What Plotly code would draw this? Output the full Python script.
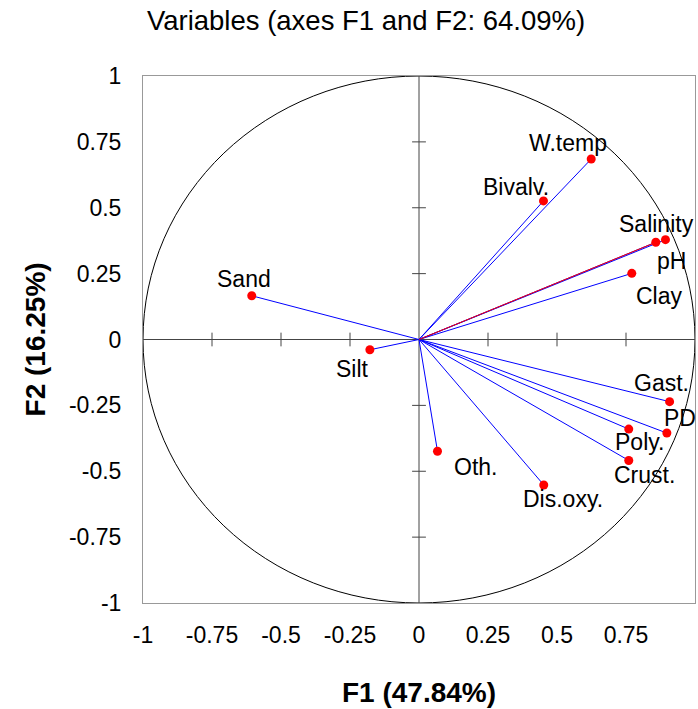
import plotly.graph_objects as go

variables = ["W.temp", "Bivalv.", "Salinity", "pH", "Clay", "Sand", "Silt",
             "Gast.", "PD", "Poly.", "Crust.", "Oth.", "Dis.oxy."]
f1 = [0.624, 0.451, 0.858, 0.893, 0.771, -0.606, -0.178,
      0.908, 0.898, 0.760, 0.760, 0.067, 0.452]
f2 = [0.685, 0.526, 0.369, 0.379, 0.251, 0.166, -0.039,
      -0.236, -0.355, -0.340, -0.459, -0.424, -0.552]
tick_vals = [-1, -0.75, -0.5, -0.25, 0, 0.25, 0.5, 0.75, 1]
tick_text = ["-1", "-0.75", "-0.5", "-0.25", "0", "0.25", "0.5", "0.75", "1"]

# label offsets in pixels (dx, dy upward)
label_off = {
    "W.temp": (-23, 16), "Bivalv.": (-27, 14), "Salinity": (1, 18), "pH": (6, -21),
    "Clay": (28, -23), "Sand": (-8, 17), "Silt": (-17, -19), "Gast.": (-8, 19),
    "PD": (13, 15), "Poly.": (11, -13), "Crust.": (16, -15), "Oth.": (38, -16),
    "Dis.oxy.": (19, -14),
}

FONT = "Liberation Sans, Arial, sans-serif"
fig = go.Figure()

for name, x, y in zip(variables, f1, f2):
    fig.add_trace(go.Scatter(x=[0, x], y=[0, y], mode="lines",
                             line=dict(color="#0000ff", width=1),
                             hoverinfo="skip", showlegend=False))
i = variables.index("Salinity")
fig.add_trace(go.Scatter(x=[0, f1[i]], y=[0, f2[i]], mode="lines",
                         line=dict(color="#ff0000", width=1),
                         hoverinfo="skip", showlegend=False))

fig.add_trace(go.Scatter(x=f1, y=f2, mode="markers", text=variables,
                         marker=dict(color="#ff0000", size=9),
                         showlegend=False))

for name, x, y in zip(variables, f1, f2):
    dx, dy = label_off[name]
    fig.add_annotation(x=x, y=y, text=name, showarrow=False, xshift=dx, yshift=dy,
                       font=dict(family=FONT, size=23, color="black"))

fig.add_shape(type="circle", xref="x", yref="y", x0=-1, y0=-1, x1=1, y1=1,
              line=dict(color="black", width=1), layer="below")
fig.add_shape(type="line", xref="x", yref="y", x0=-1, x1=1, y0=0, y1=0,
              line=dict(color="#444444", width=1), layer="below")
fig.add_shape(type="line", xref="x", yref="y", x0=0, x1=0, y0=-1, y1=1,
              line=dict(color="#444444", width=1), layer="below")
for t in tick_vals:
    if t in (-1, 0, 1):
        continue
    fig.add_shape(type="line", xref="x", yref="y", x0=t, x1=t, y0=-0.026, y1=0.026,
                  line=dict(color="#444444", width=1), layer="below")
    fig.add_shape(type="line", xref="x", yref="y", x0=-0.025, x1=0.025, y0=t, y1=t,
                  line=dict(color="#444444", width=1), layer="below")

axis_common = dict(range=[-1, 1], tickvals=tick_vals, ticktext=tick_text,
                   showgrid=False, zeroline=False, showline=True, mirror=True,
                   linecolor="#999999", linewidth=1, ticks="", automargin=False,
                   tickfont=dict(family=FONT, size=23, color="black"))
fig.update_xaxes(**axis_common, ticklabelstandoff=11)
fig.update_yaxes(**axis_common, ticklabelstandoff=16)

fig.add_annotation(text="F1 (47.84%)", xref="paper", yref="paper", x=0.5, y=-0.169,
                   showarrow=False, yanchor="middle",
                   font=dict(family=FONT, size=28, color="black", weight="bold"))
fig.add_annotation(text="F2 (16.25%)", xref="paper", yref="paper", x=-0.194, y=0.5,
                   showarrow=False, textangle=-90, xanchor="center",
                   font=dict(family=FONT, size=28, color="black", weight="bold"))

fig.update_layout(
    width=698, height=709,
    margin=dict(l=143, r=3, t=76, b=106, autoexpand=False),
    plot_bgcolor="white", paper_bgcolor="white",
    title=dict(text="Variables (axes F1 and F2: 64.09%)", x=366/698, xref="container",
               xanchor="center", y=1 - 20/709, yref="container", yanchor="middle",
               font=dict(family=FONT, size=27.5, color="black")),
)

fig.write_html("out.html", config={"displayModeBar": False},
               post_script="document.body.style.margin='0';document.body.style.overflow='hidden';")
